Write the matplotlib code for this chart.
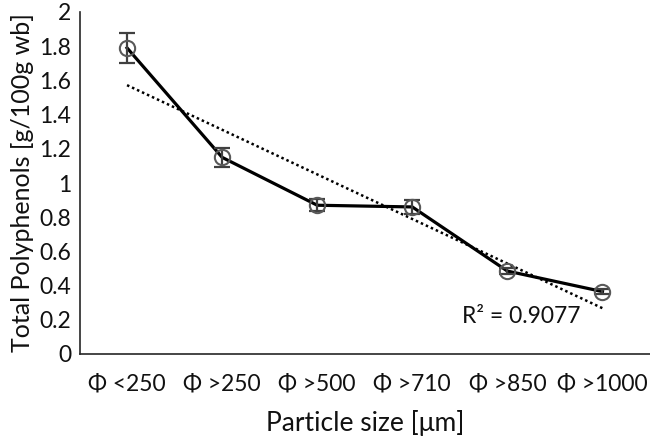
import matplotlib
matplotlib.use("Agg")
import matplotlib.pyplot as plt
import numpy as np

categories = ["Φ <250", "Φ >250", "Φ >500", "Φ >710", "Φ >850", "Φ >1000"]
values = [1.79, 1.15, 0.87, 0.86, 0.485, 0.365]
errors = [0.09, 0.055, 0.035, 0.04, 0.02, 0.015]
yticks = [0, 0.2, 0.4, 0.6, 0.8, 1, 1.2, 1.4, 1.6, 1.8, 2]
ytick_labels = ["0", "0.2", "0.4", "0.6", "0.8", "1", "1.2", "1.4", "1.6", "1.8", "2"]
r2_text = "R² = 0.9077"

plt.rcParams['font.family'] = ['Lato', 'DejaVu Sans']

fig = plt.figure(figsize=(6.5, 4.43), dpi=100)
ax = fig.add_axes([79.5/650, (443-354)/443, (650-79.5)/650, (354-12)/443])

x = np.arange(1, len(categories) + 1)
ax.plot(x, values, color='black', lw=2.3, zorder=3)
ax.errorbar(x, values, yerr=errors, fmt='none', ecolor='#404040', elinewidth=1.6,
            capsize=5.5, capthick=1.6, zorder=4)
ax.plot(x, values, linestyle='none', marker='o', markersize=11, markerfacecolor='none',
        markeredgecolor='#595959', markeredgewidth=1.5, zorder=5)

slope, intercept = np.polyfit(x, values, 1)
ax.plot(x, slope * x + intercept, color='black', lw=1.8, linestyle=(0, (1, 1.2)), zorder=2)

ax.text(5.15, 0.22, r2_text, ha='center', va='center', fontsize=16.5, color='#111111')

ax.set_xlim(0.5, 6.5)
ax.set_ylim(0, 2)
ax.set_xticks(x)
ax.set_xticklabels(categories, fontsize=16.5, color='#111111')
ax.set_yticks(yticks)
ax.set_yticklabels(ytick_labels, fontsize=16.5, color='#111111')
ax.tick_params(length=0, pad=6)
ax.tick_params(axis='x', pad=14)
for s in ['top', 'right']:
    ax.spines[s].set_visible(False)
for s in ['left', 'bottom']:
    ax.spines[s].set_color('#262626')
    ax.spines[s].set_linewidth(1.2)

ax.set_xlabel("Particle size [μm]", fontsize=19, labelpad=11, color='#111111')
ax.set_ylabel("Total Polyphenols [g/100g wb]", fontsize=18, labelpad=4, color='#111111')

fig.savefig("out.png", dpi=100)
